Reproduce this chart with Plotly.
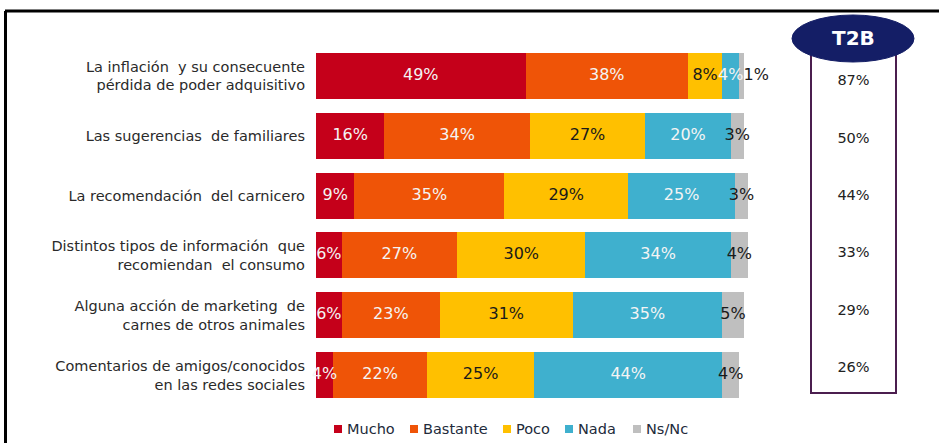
import plotly.graph_objects as go

# Survey items (top to bottom)
categories = [
    "La inflación  y su consecuente<br>pérdida de poder adquisitivo",
    "Las sugerencias  de familiares",
    "La recomendación  del carnicero",
    "Distintos tipos de información  que<br>recomiendan  el consumo",
    "Alguna acción de marketing  de<br>carnes de otros animales",
    "Comentarios de amigos/conocidos<br>en las redes sociales",
]

series_names = ["Mucho", "Bastante", "Poco", "Nada", "Ns/Nc"]
mucho = [49, 16, 9, 6, 6, 4]
bastante = [38, 34, 35, 27, 23, 22]
poco = [8, 27, 29, 30, 31, 25]
nada = [4, 20, 25, 34, 35, 44]
nsnc = [1, 3, 3, 4, 5, 4]

series_values = [mucho, bastante, poco, nada, nsnc]
colors = ["#C5001A", "#EF5407", "#FFC000", "#3FB0CE", "#BFBFBF"]
label_colors = ["#F4F4F4", "#F4F4F4", "#1A1A1A", "#F4F4F4", "#1A1A1A"]

# Top-two-box score: Mucho + Bastante
t2b = [m + b for m, b in zip(mucho, bastante)]

W, H = 939, 443
FONT = "DejaVu Sans"

fig = go.Figure()

# Stacked bars
for name, vals, col in zip(series_names, series_values, colors):
    fig.add_trace(go.Bar(
        y=categories, x=vals, name=name, orientation="h",
        marker=dict(color=col, line=dict(width=0)),
        hoverinfo="skip", showlegend=False,
    ))

# Percentage labels centred on each segment (tiny segments labelled beside the bar end)
left = [0] * len(categories)
for vals, tcol in zip(series_values, label_colors):
    xs_in, ys_in, tx_in = [], [], []
    xs_out, ys_out, tx_out = [], [], []
    for i, v in enumerate(vals):
        if v < 2:
            xs_out.append(left[i] + v)
            ys_out.append(categories[i])
            tx_out.append(f"{v}%")
        else:
            xs_in.append(left[i] + v / 2)
            ys_in.append(categories[i])
            tx_in.append(f"{v}%")
        left[i] += v
    fig.add_trace(go.Scatter(
        x=xs_in, y=ys_in, text=tx_in, mode="text", textposition="middle center",
        textfont=dict(family=FONT, size=16, color=tcol),
        showlegend=False, hoverinfo="skip", cliponaxis=False,
    ))
    if xs_out:
        fig.add_trace(go.Scatter(
            x=xs_out, y=ys_out, text=tx_out, mode="text", textposition="middle right",
            textfont=dict(family=FONT, size=16, color="#1A1A1A"),
            showlegend=False, hoverinfo="skip", cliponaxis=False,
        ))

# T2B column values on their own small axis pair
fig.add_trace(go.Scatter(
    x=[0.5] * len(categories), y=categories, text=[f"{v}%" for v in t2b],
    mode="text", textposition="middle center",
    textfont=dict(family=FONT, size=14.5, color="#222222"),
    xaxis="x2", yaxis="y2", showlegend=False, hoverinfo="skip", cliponaxis=False,
))

x0_px, x1_px = 316, 765
y_top_px, y_bot_px = 46, 405
t2b_x0, t2b_x1 = 811, 896
t2b_top, t2b_bot = 53, 397

shapes = [
    # outer frame (top and left edges)
    dict(type="line", xref="paper", yref="paper",
         x0=5 / W, x1=1.0, y0=1 - 11 / H, y1=1 - 11 / H,
         line=dict(color="black", width=3)),
    dict(type="line", xref="paper", yref="paper",
         x0=5.5 / W, x1=5.5 / W, y0=0, y1=1 - 11 / H,
         line=dict(color="black", width=3)),
    # T2B column box
    dict(type="rect", xref="paper", yref="paper",
         x0=t2b_x0 / W, x1=t2b_x1 / W, y0=1 - 393 / H, y1=1 - 50 / H,
         line=dict(color="#4B1E4F", width=2), fillcolor="rgba(0,0,0,0)"),
    # T2B header badge
    dict(type="circle", xref="paper", yref="paper",
         x0=792 / W, x1=914 / W, y0=1 - 62 / H, y1=1 - 15 / H,
         line=dict(color="#141E66", width=1), fillcolor="#141E66"),
]

annotations = [
    dict(text="<b>T2B</b>", xref="paper", yref="paper", x=853 / W, y=1 - 38 / H,
         showarrow=False, font=dict(family=FONT, size=20, color="white"),
         xanchor="center", yanchor="middle"),
]

# Compact legend row under the chart: colour swatch followed by the series name
legend_x_px = [334, 410, 503, 565, 633]
legend_y_px = 429
sw = 8
for name, col, lx in zip(series_names, colors, legend_x_px):
    shapes.append(dict(
        type="rect", xref="paper", yref="paper",
        x0=lx / W, x1=(lx + sw) / W,
        y0=1 - (legend_y_px + sw / 2) / H, y1=1 - (legend_y_px - sw / 2) / H,
        line=dict(width=0), fillcolor=col,
    ))
    annotations.append(dict(
        text=name, xref="paper", yref="paper",
        x=(lx + sw + 3) / W, y=1 - (legend_y_px - 0.5) / H,
        xanchor="left", yanchor="middle", showarrow=False,
        font=dict(family=FONT, size=14.5, color="#222A3A"),
    ))

n = len(categories)
fig.update_layout(
    width=W, height=H,
    margin=dict(l=0, r=0, t=0, b=0),
    paper_bgcolor="white", plot_bgcolor="rgba(0,0,0,0)",
    barmode="stack", bargap=0.23,
    font=dict(family=FONT, color="#333333"),
    xaxis=dict(domain=[x0_px / W, x1_px / W], range=[0, 105],
               visible=False, fixedrange=True),
    yaxis=dict(domain=[1 - y_bot_px / H, 1 - y_top_px / H],
               categoryorder="array", categoryarray=categories,
               autorange="reversed", showgrid=False, zeroline=False,
               showline=False, ticks="", ticklabelstandoff=10,
               tickfont=dict(family=FONT, size=14.5, color="#2A2A2A")),
    xaxis2=dict(domain=[t2b_x0 / W, t2b_x1 / W], range=[0, 1],
                visible=False, fixedrange=True, anchor="y2"),
    yaxis2=dict(domain=[1 - t2b_bot / H, 1 - t2b_top / H],
                type="category", categoryorder="array", categoryarray=categories,
                range=[n - 0.5, -0.5], visible=False, anchor="x2"),
    shapes=shapes,
    annotations=annotations,
    showlegend=False,
)

fig.write_html("out.html")
